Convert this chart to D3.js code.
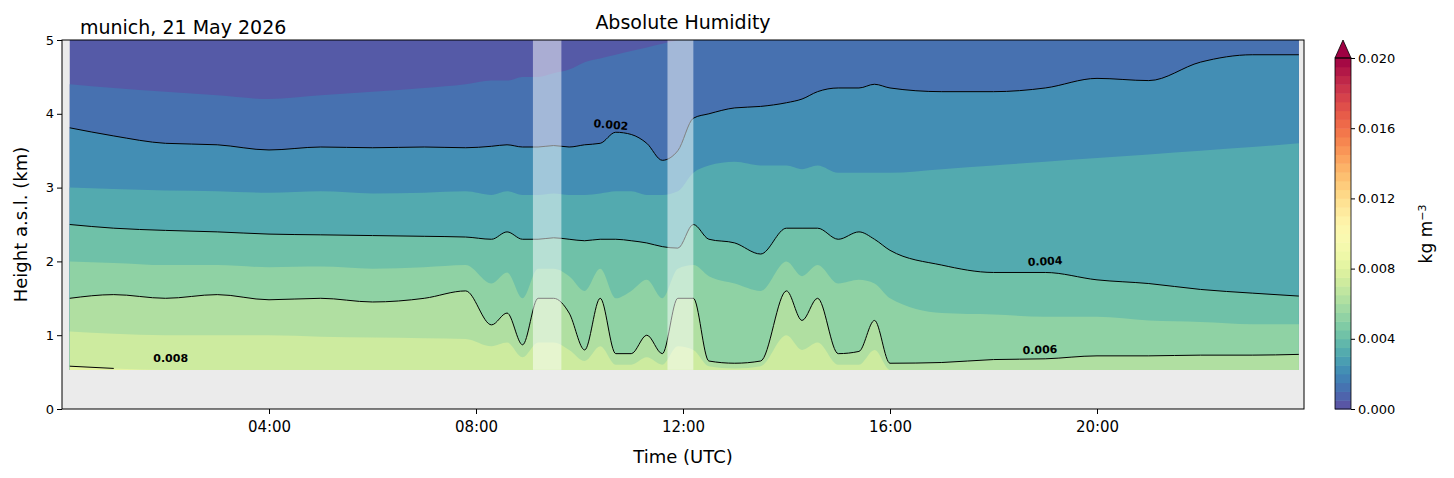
<!DOCTYPE html>
<html><head><meta charset="utf-8">
<script src="https://cdn.jsdelivr.net/npm/d3@7"></script>
<style>body{margin:0;background:#fff;font-family:"DejaVu Sans",sans-serif}</style>
</head><body><svg id="chart" width="1454" height="478"></svg>
<script>
// time in hours UTC
var times = [0.15,1,2,3,4,5,6,7,7.8,8.3,8.6,8.9,9.2,9.5,9.8,10.1,10.4,10.7,11,11.3,11.6,11.9,12.2,12.5,13,13.5,14,14.3,14.6,15,15.4,15.7,16,17,18,19,20,21,22,23,23.9];
var levels = [0.001,0.002,0.003,0.004,0.005,0.006,0.007,0.008];
// height (km) of each humidity iso-line
var h001 = [4.4,4.35,4.3,4.25,4.2,4.25,4.3,4.35,4.4,4.45,4.45,4.5,4.5,4.55,4.6,4.7,4.75,4.8,4.85,4.9,4.95,5.0,5.1,5.1,5.1,5.1,5.1,5.1,5.1,5.1,5.1,5.1,5.1,5.1,5.1,5.1,5.1,5.1,5.1,5.1,5.1];
var h002 = [3.81,3.7,3.6,3.58,3.51,3.55,3.54,3.55,3.54,3.56,3.58,3.55,3.55,3.57,3.55,3.58,3.6,3.75,3.72,3.6,3.37,3.5,3.94,4.0,4.08,4.1,4.15,4.2,4.3,4.35,4.35,4.4,4.35,4.3,4.3,4.35,4.48,4.45,4.7,4.8,4.8];
var h003 = [3.0,2.98,2.96,2.95,2.93,2.95,2.92,2.93,2.95,2.9,2.95,2.9,2.9,2.92,2.9,2.9,2.92,2.95,2.95,2.9,2.9,2.95,3.2,3.3,3.35,3.3,3.3,3.25,3.3,3.2,3.2,3.2,3.2,3.25,3.3,3.35,3.4,3.45,3.5,3.55,3.6];
var h004 = [2.5,2.45,2.42,2.4,2.37,2.36,2.35,2.34,2.33,2.3,2.4,2.3,2.3,2.32,2.3,2.28,2.3,2.3,2.28,2.25,2.2,2.18,2.5,2.3,2.25,2.1,2.45,2.45,2.45,2.3,2.4,2.3,2.15,1.95,1.85,1.85,1.75,1.7,1.62,1.57,1.53];
var h005 = [2.0,1.98,1.95,1.95,1.92,1.93,1.9,1.92,1.95,1.7,1.85,1.5,1.9,1.9,1.8,1.6,1.9,1.5,1.6,1.75,1.5,1.9,1.95,1.8,1.7,1.6,2.0,1.8,1.95,1.7,1.75,1.7,1.5,1.3,1.28,1.25,1.25,1.2,1.18,1.15,1.15];
var h006 = [1.5,1.55,1.5,1.55,1.48,1.5,1.45,1.5,1.6,1.14,1.3,0.87,1.5,1.5,1.3,0.8,1.5,0.75,0.75,1.0,0.75,1.5,1.5,0.65,0.62,0.65,1.6,1.2,1.5,0.75,0.78,1.2,0.62,0.63,0.67,0.68,0.72,0.72,0.73,0.73,0.74];
var h007 = [1.05,1.02,1.0,1.0,1.0,0.98,0.97,0.96,0.95,0.85,0.9,0.7,0.9,0.9,0.8,0.65,0.85,0.6,0.6,0.7,0.6,0.85,0.8,0.58,0.55,0.58,1.0,0.8,0.9,0.6,0.6,0.8,0.53,0.53,0.53,0.53,0.53,0.53,0.53,0.53,0.53];
var h008 = [0.58,0.55,0.53,0.53,0.53,0.53,0.53,0.53,0.53,0.53,0.53,0.53,0.53,0.53,0.53,0.53,0.53,0.53,0.53,0.53,0.53,0.53,0.53,0.53,0.53,0.53,0.53,0.53,0.53,0.53,0.53,0.53,0.53,0.53,0.53,0.53,0.53,0.53,0.53,0.53,0.53];
var isoHeights = [h001,h002,h003,h004,h005,h006,h007,h008];
var lineLevels = [0.002,0.004,0.006,0.008];
var gaps = [[9.1,9.65],[11.7,12.2]];
var xTicks = [4,8,12,16,20];
var xTickLabels = ["04:00","08:00","12:00","16:00","20:00"];
var cbTicks = [0,0.004,0.008,0.012,0.016,0.020];
var dataBottom = 0.53;

var svg = d3.select("#chart");
var m = {l:62, r:1304, t:40, b:409};
var x = d3.scaleLinear().domain([0,24]).range([m.l,m.r]);
var y = d3.scaleLinear().domain([0,5]).range([m.b,m.t]);
function col(v){ return d3.interpolateSpectral(1 - v/0.02); }

svg.append("defs").append("clipPath").attr("id","clip")
  .append("rect").attr("x",m.l).attr("y",m.t).attr("width",m.r-m.l).attr("height",m.b-m.t);
svg.append("rect").attr("x",m.l).attr("y",m.t).attr("width",m.r-m.l).attr("height",m.b-m.t).attr("fill","#ebebeb");

var g = svg.append("g").attr("clip-path","url(#clip)");
var x0 = times[0], x1 = times[times.length-1];
g.append("rect").attr("x",x(x0)).attr("width",x(x1)-x(x0))
  .attr("y",y(5)).attr("height",y(dataBottom)-y(5)).attr("fill",col(0.0004));

var curve = d3.curveMonotoneX;
levels.forEach(function(L,i){
  var hs = isoHeights[i];
  var area = d3.area().curve(curve)
    .x(function(d,j){return x(times[j]);})
    .y0(y(dataBottom))
    .y1(function(d){return y(Math.min(d,5.2));});
  g.append("path").datum(hs).attr("d",area).attr("fill",col(L+0.0002)).attr("stroke","none");
});

lineLevels.forEach(function(L){
  var hs = isoHeights[levels.indexOf(L)];
  var line = d3.line().curve(curve)
    .x(function(d,j){return x(times[j]);})
    .y(function(d){return y(d);})
    .defined(function(d){return d > dataBottom + 0.01;});
  g.append("path").datum(hs).attr("d",line).attr("fill","none").attr("stroke","#000").attr("stroke-width",1);
});

gaps.forEach(function(gp){
  g.append("rect").attr("x",x(gp[0])).attr("width",x(gp[1])-x(gp[0]))
    .attr("y",y(5)).attr("height",y(dataBottom)-y(5)).attr("fill","#fff").attr("opacity",0.5);
});

var labels = [{t:"0.002",x:10.6,y:3.8,r:5},{t:"0.004",x:19.0,y:1.95,r:-3},{t:"0.006",x:18.9,y:0.75,r:-2},{t:"0.008",x:2.1,y:0.64,r:0}];
labels.forEach(function(l){
  svg.append("text").attr("transform","translate("+x(l.x)+","+y(l.y)+") rotate("+l.r+")")
    .attr("text-anchor","middle").style("font-size","11px").attr("font-weight","bold").text(l.t);
});

svg.append("rect").attr("x",m.l).attr("y",m.t).attr("width",m.r-m.l).attr("height",m.b-m.t)
  .attr("fill","none").attr("stroke","#000").attr("stroke-width",1);

var xa = svg.append("g").attr("transform","translate(0,"+m.b+")")
  .call(d3.axisBottom(x).tickValues(xTicks).tickFormat(function(d,i){return xTickLabels[i];}).tickSizeOuter(0).tickSize(5));
xa.selectAll("text").style("font-size","15px").style("font-family","DejaVu Sans").attr("dy","1em");
xa.select(".domain").remove();
var ya = svg.append("g").attr("transform","translate("+m.l+",0)")
  .call(d3.axisLeft(y).ticks(5).tickSizeOuter(0).tickSize(5));
ya.selectAll("text").style("font-size","13px").style("font-family","DejaVu Sans");
ya.select(".domain").remove();

svg.append("text").attr("x",(m.l+m.r)/2).attr("y",463).attr("text-anchor","middle").style("font-size","18px").text("Time (UTC)");
svg.append("text").attr("transform","translate(27,"+((m.t+m.b)/2)+") rotate(-90)").attr("text-anchor","middle").style("font-size","18px").text("Height a.s.l. (km)");
svg.append("text").attr("x",683).attr("y",29).attr("text-anchor","middle").style("font-size","19px").text("Absolute Humidity");
svg.append("text").attr("x",80).attr("y",34).style("font-size","19px").text("munich, 21 May 2026");

// colorbar
var cb = {x:1335, w:16, top:58, bot:409};
var cy = d3.scaleLinear().domain([0,0.02]).range([cb.bot,cb.top]);
var steps = d3.range(0,0.02,0.0005);
svg.selectAll(".cb").data(steps).enter().append("rect")
  .attr("x",cb.x).attr("width",cb.w)
  .attr("y",function(d){return cy(d+0.0005);}).attr("height",function(d){return cy(d)-cy(d+0.0005)+0.5;})
  .attr("fill",function(d){return col(d+0.00025);});
svg.append("path").attr("d","M"+cb.x+","+cb.top+"L"+(cb.x+cb.w/2)+","+(cb.top-18)+"L"+(cb.x+cb.w)+","+cb.top+"Z")
  .attr("fill",col(0.0201)).attr("stroke","#000").attr("stroke-width",0.8);
svg.append("rect").attr("x",cb.x).attr("y",cb.top).attr("width",cb.w).attr("height",cb.bot-cb.top)
  .attr("fill","none").attr("stroke","#000").attr("stroke-width",0.8);
var ca = svg.append("g").attr("transform","translate("+(cb.x+cb.w)+",0)")
  .call(d3.axisRight(cy).tickValues(cbTicks).tickFormat(d3.format(".3f")).tickSize(4));
ca.selectAll("text").style("font-size","13px").style("font-family","DejaVu Sans");
ca.select(".domain").remove();
svg.append("text").attr("transform","translate(1432,234) rotate(-90)").attr("text-anchor","middle").style("font-size","17px")
  .html('kg m<tspan dy="-6" font-size="11">−3</tspan>');
</script></body></html>
